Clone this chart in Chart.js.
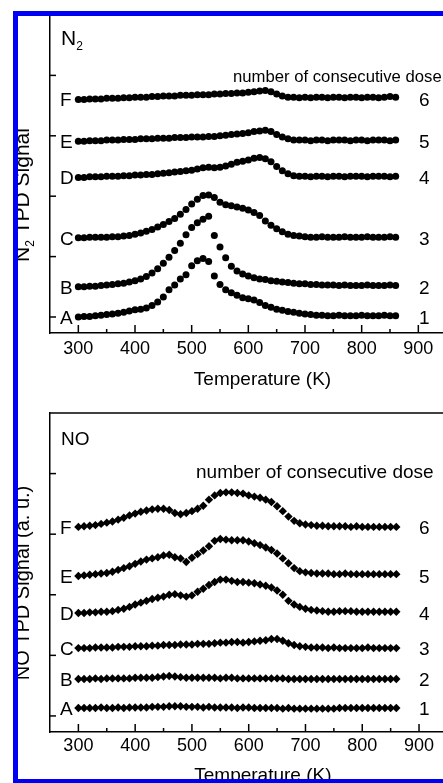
<!DOCTYPE html>
<html>
<head>
<meta charset="utf-8">
<script src="https://cdn.jsdelivr.net/npm/chart.js@4.4.0/dist/chart.umd.min.js"></script>
<style>
  html, body { margin: 0; padding: 0; background: #fff; overflow: hidden; width: 443px; height: 783px; }
  canvas { position: absolute; left: 0; }
  #c1 { top: 0; }
  #c2 { top: 395px; }
  #frame { position: absolute; left: 13px; top: 11px; width: 520px; height: 773px; box-sizing: border-box;
           border: 5px solid #0000f5; border-right: none; }
</style>
</head>
<body>
<canvas id="c1" width="480" height="395"></canvas>
<canvas id="c2" width="480" height="400"></canvas>
<div id="frame"></div>
<script>
const FONT = "'Liberation Sans', Arial, sans-serif";

const temps = [300, 310, 320, 330, 340, 350, 360, 370, 380, 390,
               400, 410, 420, 430, 440, 450, 460, 470, 480, 490,
               500, 510, 520, 530, 540, 550, 560, 570, 580, 590,
               600, 610, 620, 630, 640, 650, 660, 670, 680, 690,
               700, 710, 720, 730, 740, 750, 760, 770, 780, 790,
               800, 810, 820, 830, 840, 850, 860];

const xMajor = [300, 400, 500, 600, 700, 800, 900];
const xMinor = [350, 450, 550, 650, 750, 850];
const yTicks = [0, 1, 2, 3, 4];
const rowLetters = ['A', 'B', 'C', 'D', 'E', 'F'];
const doseNumbers = ['1', '2', '3', '4', '5', '6'];

// N2 TPD, offset traces A..F
const n2A = [0.00, 0.01, 0.01, 0.02, 0.03, 0.04, 0.05, 0.06, 0.08, 0.10,
             0.12, 0.13, 0.15, 0.19, 0.25, 0.33, 0.45, 0.53, 0.63, 0.70,
             0.85, 0.93, 0.97, 0.92, 0.68, 0.54, 0.45, 0.40, 0.36, 0.32,
             0.30, 0.28, 0.24, 0.19, 0.16, 0.13, 0.11, 0.09, 0.08, 0.06,
             0.05, 0.04, 0.03, 0.03, 0.02, 0.02, 0.03, 0.02, 0.02, 0.02,
             0.03, 0.02, 0.02, 0.02, 0.03, 0.02, 0.02];
const n2B = [0.50, 0.50, 0.51, 0.51, 0.52, 0.53, 0.54, 0.55, 0.56, 0.58,
             0.60, 0.63, 0.67, 0.73, 0.80, 0.89, 0.99, 1.10, 1.22, 1.36,
             1.48, 1.56, 1.62, 1.67, 1.35, 1.16, 0.98, 0.84, 0.76, 0.71,
             0.68, 0.65, 0.63, 0.62, 0.60, 0.59, 0.58, 0.57, 0.56, 0.55,
             0.55, 0.54, 0.54, 0.53, 0.53, 0.53, 0.52, 0.53, 0.52, 0.52,
             0.52, 0.53, 0.52, 0.52, 0.52, 0.53, 0.52];
const n2C = [1.31, 1.31, 1.32, 1.32, 1.32, 1.32, 1.33, 1.33, 1.34, 1.35,
             1.37, 1.39, 1.42, 1.45, 1.49, 1.53, 1.58, 1.63, 1.70, 1.78,
             1.87, 1.95, 2.01, 2.02, 1.98, 1.90, 1.86, 1.84, 1.82, 1.80,
             1.77, 1.73, 1.68, 1.59, 1.52, 1.46, 1.41, 1.37, 1.35, 1.34,
             1.33, 1.32, 1.32, 1.33, 1.32, 1.32, 1.32, 1.33, 1.32, 1.32,
             1.32, 1.33, 1.32, 1.32, 1.32, 1.33, 1.32];
const n2D = [2.31, 2.31, 2.32, 2.32, 2.32, 2.33, 2.33, 2.33, 2.34, 2.34,
             2.35, 2.35, 2.36, 2.36, 2.37, 2.38, 2.39, 2.40, 2.41, 2.42,
             2.43, 2.45, 2.47, 2.48, 2.47, 2.48, 2.50, 2.53, 2.56, 2.58,
             2.60, 2.63, 2.64, 2.62, 2.57, 2.49, 2.42, 2.37, 2.34, 2.33,
             2.33, 2.32, 2.33, 2.33, 2.32, 2.33, 2.33, 2.32, 2.33, 2.33,
             2.33, 2.32, 2.33, 2.33, 2.33, 2.32, 2.33];
const n2E = [2.91, 2.91, 2.92, 2.92, 2.92, 2.93, 2.93, 2.93, 2.94, 2.94,
             2.94, 2.95, 2.95, 2.95, 2.96, 2.96, 2.96, 2.97, 2.97, 2.97,
             2.98, 2.98, 2.98, 2.99, 2.99, 3.00, 3.01, 3.02, 3.03, 3.04,
             3.05, 3.07, 3.08, 3.09, 3.07, 3.02, 2.98, 2.95, 2.93, 2.93,
             2.93, 2.92, 2.93, 2.93, 2.92, 2.93, 2.93, 2.93, 2.92, 2.93,
             2.93, 2.92, 2.93, 2.93, 2.93, 2.92, 2.93];
const n2F = [3.60, 3.60, 3.61, 3.61, 3.61, 3.62, 3.62, 3.62, 3.63, 3.63,
             3.64, 3.64, 3.64, 3.65, 3.65, 3.66, 3.66, 3.66, 3.67, 3.67,
             3.67, 3.68, 3.68, 3.68, 3.69, 3.69, 3.70, 3.70, 3.71, 3.71,
             3.72, 3.73, 3.74, 3.75, 3.73, 3.69, 3.66, 3.64, 3.64, 3.63,
             3.64, 3.63, 3.64, 3.64, 3.63, 3.64, 3.64, 3.63, 3.64, 3.64,
             3.63, 3.64, 3.64, 3.63, 3.64, 3.65, 3.64];

// NO TPD, offset traces A..F
const noA = [0.13, 0.13, 0.13, 0.13, 0.14, 0.13, 0.13, 0.14, 0.13, 0.14,
             0.14, 0.14, 0.14, 0.15, 0.15, 0.15, 0.16, 0.16, 0.16, 0.15,
             0.15, 0.15, 0.14, 0.15, 0.14, 0.14, 0.14, 0.14, 0.13, 0.14,
             0.14, 0.13, 0.13, 0.13, 0.13, 0.13, 0.12, 0.13, 0.12, 0.12,
             0.12, 0.12, 0.12, 0.12, 0.12, 0.12, 0.13, 0.13, 0.13, 0.13,
             0.13, 0.13, 0.13, 0.13, 0.13, 0.13, 0.13];
const noB = [0.61, 0.61, 0.61, 0.62, 0.61, 0.62, 0.62, 0.62, 0.62, 0.62,
             0.63, 0.63, 0.63, 0.63, 0.64, 0.65, 0.66, 0.65, 0.64, 0.63,
             0.63, 0.63, 0.63, 0.63, 0.63, 0.62, 0.63, 0.63, 0.62, 0.62,
             0.62, 0.62, 0.62, 0.62, 0.62, 0.62, 0.62, 0.61, 0.61, 0.61,
             0.61, 0.61, 0.61, 0.61, 0.61, 0.61, 0.61, 0.61, 0.61, 0.61,
             0.61, 0.61, 0.61, 0.61, 0.61, 0.61, 0.61];
const noC = [1.12, 1.12, 1.12, 1.13, 1.13, 1.13, 1.13, 1.14, 1.14, 1.14,
             1.15, 1.15, 1.15, 1.16, 1.16, 1.17, 1.17, 1.17, 1.18, 1.18,
             1.18, 1.19, 1.19, 1.19, 1.20, 1.21, 1.21, 1.22, 1.22, 1.21,
             1.22, 1.23, 1.24, 1.25, 1.27, 1.27, 1.24, 1.20, 1.17, 1.15,
             1.14, 1.13, 1.13, 1.13, 1.12, 1.13, 1.12, 1.12, 1.12, 1.12,
             1.12, 1.13, 1.12, 1.12, 1.12, 1.12, 1.12];
const noD = [1.70, 1.70, 1.71, 1.71, 1.72, 1.72, 1.73, 1.75, 1.77, 1.80,
             1.84, 1.87, 1.90, 1.93, 1.95, 1.97, 2.00, 2.01, 1.99, 1.97,
             1.99, 2.05, 2.10, 2.16, 2.21, 2.25, 2.25, 2.23, 2.21, 2.21,
             2.20, 2.19, 2.17, 2.15, 2.12, 2.07, 2.00, 1.90, 1.84, 1.80,
             1.77, 1.75, 1.74, 1.73, 1.72, 1.72, 1.73, 1.73, 1.73, 1.72,
             1.72, 1.72, 1.72, 1.72, 1.72, 1.72, 1.72];
const noE = [2.31, 2.32, 2.33, 2.34, 2.35, 2.36, 2.38, 2.41, 2.44, 2.47,
             2.51, 2.55, 2.58, 2.60, 2.62, 2.65, 2.66, 2.62, 2.60, 2.54,
             2.61, 2.67, 2.73, 2.80, 2.89, 2.92, 2.91, 2.90, 2.90, 2.90,
             2.88, 2.85, 2.82, 2.78, 2.74, 2.68, 2.60, 2.52, 2.44, 2.39,
             2.37, 2.36, 2.35, 2.35, 2.35, 2.34, 2.34, 2.35, 2.34, 2.34,
             2.34, 2.34, 2.34, 2.34, 2.34, 2.34, 2.34];
const noF = [3.12, 3.13, 3.14, 3.15, 3.17, 3.19, 3.21, 3.24, 3.27, 3.31,
             3.34, 3.37, 3.39, 3.41, 3.42, 3.42, 3.40, 3.35, 3.33, 3.35,
             3.38, 3.42, 3.47, 3.57, 3.64, 3.68, 3.69, 3.69, 3.68, 3.67,
             3.64, 3.62, 3.60, 3.57, 3.53, 3.46, 3.38, 3.29, 3.22, 3.18,
             3.16, 3.15, 3.14, 3.14, 3.13, 3.13, 3.13, 3.13, 3.12, 3.13,
             3.12, 3.12, 3.12, 3.12, 3.12, 3.12, 3.12];

// draw a row of text pieces (for subscripts), x/y is the baseline start
function drawRuns(ctx, runs, x, y, align) {
  let total = 0;
  runs.forEach(r => { ctx.font = r.size + 'px ' + FONT; total += ctx.measureText(r.text).width; });
  let cx = align === 'center' ? x - total / 2 : x;
  ctx.textAlign = 'left';
  ctx.textBaseline = 'alphabetic';
  runs.forEach(r => {
    ctx.font = r.size + 'px ' + FONT;
    ctx.fillText(r.text, cx, y + (r.dy || 0));
    cx += ctx.measureText(r.text).width;
  });
}

function line(ctx, x1, y1, x2, y2) {
  ctx.beginPath();
  ctx.moveTo(x1, y1);
  ctx.lineTo(x2, y2);
  ctx.stroke();
}

const decoPlugin = {
  id: 'deco',
  afterDraw(chart, args, o) {
    const { ctx, chartArea: a, scales: { x, y } } = chart;
    ctx.save();
    ctx.strokeStyle = '#000';
    ctx.fillStyle = '#000';
    ctx.lineWidth = 1.5;
    line(ctx, a.left, a.top, a.right, a.top);
    xMajor.forEach(v => { const px = x.getPixelForValue(v); line(ctx, px, a.bottom, px, a.bottom - 8); });
    xMinor.forEach(v => { const px = x.getPixelForValue(v); line(ctx, px, a.bottom, px, a.bottom - 4); });
    yTicks.forEach(v => { const py = y.getPixelForValue(v); line(ctx, a.left, py, a.left + 6, py); });

    chart.data.datasets.forEach((ds, i) => {
      const py = y.getPixelForValue(ds.data[0].y);
      drawRuns(ctx, [{ text: rowLetters[i], size: 19 }], 60, py + 0.36 * 19);
      drawRuns(ctx, [{ text: doseNumbers[i], size: 19 }], 419, py + 0.36 * 19);
    });

    drawRuns(ctx, o.panel, o.panelX, o.panelY);
    drawRuns(ctx, [{ text: 'number of consecutive dose', size: o.noteSize }], o.noteX, o.noteY);

    ctx.translate(o.yTitleX, o.yTitleY);
    ctx.rotate(-Math.PI / 2);
    drawRuns(ctx, o.yTitle, 0, 0, 'center');
    ctx.restore();
  }
};

function makeChart(id, series, style, radius, deco, padTop, axisH, tickPad, titlePad) {
  return new Chart(document.getElementById(id), {
    type: 'scatter',
    data: {
      datasets: series.map(vals => ({
        data: temps.map((t, i) => ({ x: t, y: vals[i] })),
        pointStyle: style,
        pointRadius: radius,
        pointBackgroundColor: '#000',
        pointBorderWidth: 0,
        showLine: false
      }))
    },
    options: {
      responsive: false,
      animation: false,
      devicePixelRatio: 1,
      layout: { padding: { left: 50, right: 3, top: padTop, bottom: 0 } },
      plugins: { legend: { display: false }, tooltip: { enabled: false }, deco: deco },
      scales: {
        x: {
          type: 'linear', min: 250, max: 1000,
          afterFit: s => { s.height = axisH; },
          ticks: {
            stepSize: 100, includeBounds: false, autoSkip: false, maxRotation: 0,
            padding: tickPad, color: '#000', font: { family: FONT, size: 18 },
            callback: v => (v <= 900 ? v : '')
          },
          grid: { display: false, drawTicks: false },
          border: { display: true, color: '#000', width: 1.5 },
          title: { display: true, text: 'Temperature (K)', color: '#000',
                   font: { family: FONT, size: 19 }, padding: { top: 0, bottom: titlePad } }
        },
        y: {
          min: -0.265, max: 5,
          afterFit: s => { s.width = 0; },
          ticks: { display: false },
          grid: { display: false, drawTicks: false },
          border: { display: true, color: '#000', width: 1.5 }
        }
      }
    },
    plugins: [decoPlugin]
  });
}

makeChart('c1', [n2A, n2B, n2C, n2D, n2E, n2F], 'circle', 3.5, {
  panel: [{ text: 'N', size: 21 }, { text: '2', size: 12, dy: 5 }], panelX: 61, panelY: 45,
  noteSize: 16.7, noteX: 233, noteY: 82,
  yTitle: [{ text: 'N', size: 21 }, { text: '2', size: 12, dy: 5 }, { text: ' TPD Signal', size: 21 }],
  yTitleX: 29, yTitleY: 195
}, 15, 62, 5, 4);

makeChart('c2', [noA, noB, noC, noD, noE, noF], 'rectRot', 4.2, {
  panel: [{ text: 'NO', size: 19 }], panelX: 61, panelY: 50,
  noteSize: 19, noteX: 196, noteY: 83,
  yTitle: [{ text: 'NO TPD Signal (a. u.)', size: 20 }],
  yTitleX: 29, yTitleY: 188
}, 18, 63, 3, 8);
</script>
</body>
</html>
